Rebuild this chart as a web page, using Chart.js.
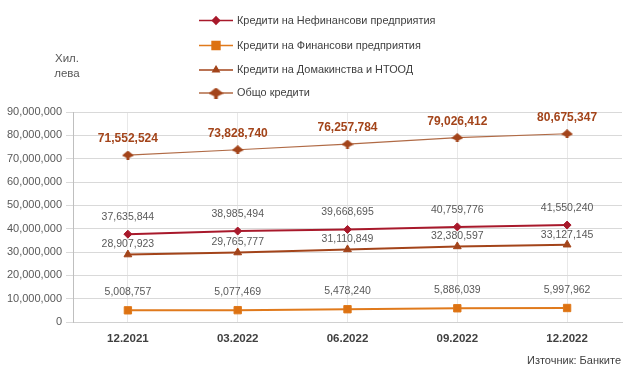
<!DOCTYPE html>
<html><head><meta charset="utf-8">
<script src="https://cdn.jsdelivr.net/npm/chart.js@4.4.0/dist/chart.umd.min.js"></script>
<style>html,body{margin:0;padding:0;background:#fff;}#wrap{width:631px;height:375px;position:relative}</style>
</head><body><div id="wrap"><canvas id="c" width="631" height="375"></canvas></div>
<script>
const categories = ['12.2021', '03.2022', '06.2022', '09.2022', '12.2022'];
const seriesNames = ['Кредити на Нефинансови предприятия', 'Кредити на Финансови предприятия', 'Кредити на Домакинства и НТООД', 'Общо кредити'];
const nonFinancial = [37635844, 38985494, 39668695, 40759776, 41550240];
const financial = [5008757, 5077469, 5478240, 5886039, 5997962];
const households = [28907923, 29765777, 31110849, 32380597, 33127145];
const total = [71552524, 73828740, 76257784, 79026412, 80675347];
const yMin = 0, yMax = 90000000, yStep = 10000000;
const yAxisTitle = ['Хил.', 'лева'];
const sourceText = 'Източник: Банките';

const FONT = "'Liberation Sans', Arial, sans-serif";

// custom marker for total series
function makeTotalMarker(w, h, color) {
  const cv = document.createElement('canvas');
  cv.width = w; cv.height = h;
  const c = cv.getContext('2d');
  c.fillStyle = color;
  c.beginPath();
  c.moveTo(0, h * 0.55);
  c.lineTo(w * 0.5, 0);
  c.lineTo(w, h * 0.55);
  c.lineTo(w * 0.62, h * 0.8);
  c.lineTo(w * 0.62, h);
  c.lineTo(w * 0.38, h);
  c.lineTo(w * 0.38, h * 0.8);
  c.closePath();
  c.fill();
  return cv;
}
const totalMarker = makeTotalMarker(12, 9, '#A3441A');
const totalMarkerLegend = makeTotalMarker(15, 11, '#A3441A');

const datasets = [
  { label: seriesNames[0], data: nonFinancial, borderColor: '#A8192B', backgroundColor: '#A8192B', borderWidth: 2,
    pointStyle: 'rectRot', pointRadius: 4, pointBorderWidth: 1, labelOffset: 17, labelFont: 'normal 10.5px ' + FONT, labelColor: '#595959' },
  { label: seriesNames[1], data: financial, borderColor: '#E07A1C', backgroundColor: '#DD7212', borderWidth: 2,
    pointStyle: 'rect', pointRadius: 5.2, pointBorderWidth: 1, labelOffset: 18, labelFont: 'normal 10.5px ' + FONT, labelColor: '#595959' },
  { label: seriesNames[2], data: households, borderColor: '#A3441A', backgroundColor: '#A3441A', borderWidth: 2,
    pointStyle: 'triangle', pointRadius: 4.5, pointBorderWidth: 1, labelOffset: 10, labelFont: 'normal 10.5px ' + FONT, labelColor: '#595959' },
  { label: seriesNames[3], data: total, borderColor: '#B06A45', backgroundColor: '#A3441A', borderWidth: 1.2,
    pointStyle: totalMarker, pointRadius: 6, pointBorderWidth: 0, labelOffset: 16, labelFont: 'bold 12px ' + FONT, labelColor: '#A3441A',
    legendMarker: totalMarkerLegend }
];

const fmt = v => Number(v).toLocaleString('en-US');

const labelsPlugin = {
  id: 'valueLabels',
  afterDatasetsDraw(chart) {
    const ctx = chart.ctx;
    chart.data.datasets.forEach((ds, i) => {
      const meta = chart.getDatasetMeta(i);
      ctx.save();
      ctx.font = ds.labelFont;
      ctx.fillStyle = ds.labelColor;
      ctx.textAlign = 'center';
      ctx.textBaseline = 'middle';
      meta.data.forEach((pt, j) => {
        ctx.fillText(fmt(ds.data[j]), pt.x, pt.y - ds.labelOffset);
      });
      ctx.restore();
    });
  }
};

const legendPlugin = {
  id: 'customLegend',
  afterDraw(chart) {
    const ctx = chart.ctx;
    const ys = [20.5, 45.5, 70, 93];
    chart.data.datasets.forEach((ds, i) => {
      const y = ys[i];
      ctx.save();
      ctx.strokeStyle = ds.borderColor;
      ctx.lineWidth = 1.6;
      ctx.beginPath();
      ctx.moveTo(199, y);
      ctx.lineTo(233, y);
      ctx.stroke();
      if (ds.legendMarker) {
        const m = ds.legendMarker;
        ctx.drawImage(m, 216 - m.width / 2, y - m.height / 2);
      } else {
        ctx.fillStyle = ds.backgroundColor;
        ctx.strokeStyle = ds.backgroundColor;
        Chart.helpers.drawPoint(ctx, { pointStyle: ds.pointStyle, radius: ds.pointStyle === 'rect' ? 5.5 : 3.5, rotation: 0, borderWidth: 1 }, 216, y);
      }
      ctx.font = 'normal 10.9px ' + FONT;
      ctx.fillStyle = '#404040';
      ctx.textAlign = 'left';
      ctx.textBaseline = 'middle';
      ctx.fillText(ds.label, 237, y);
      ctx.restore();
    });
    // y axis title
    ctx.save();
    ctx.font = 'normal 11.5px ' + FONT;
    ctx.fillStyle = '#595959';
    ctx.textAlign = 'center';
    ctx.textBaseline = 'middle';
    ctx.fillText(yAxisTitle[0], 67, 59);
    ctx.fillText(yAxisTitle[1], 67, 74);
    // source
    ctx.font = 'normal 11px ' + FONT;
    ctx.fillStyle = '#404040';
    ctx.textAlign = 'right';
    ctx.fillText(sourceText, 621, 361);
    ctx.restore();
  }
};

new Chart(document.getElementById('c'), {
  type: 'line',
  data: { labels: categories, datasets: datasets },
  options: {
    responsive: false,
    animation: false,
    devicePixelRatio: 1,
    layout: { padding: { left: 0, right: 9, top: 112, bottom: 0 } },
    plugins: { legend: { display: false }, tooltip: { enabled: false } },
    elements: { line: { tension: 0 } },
    scales: {
      x: {
        offset: true,
        grid: { color: '#E8E8E8', drawTicks: false, lineWidth: 1 },
        border: { display: true, color: '#D0D0D0' },
        ticks: { color: '#404040', font: { family: FONT, size: 11.5, weight: 'bold' }, padding: 10, maxRotation: 0 },
        afterFit(s) { s.height = 53; }
      },
      y: {
        min: yMin, max: yMax,
        grid: { color: '#D9D9D9', tickLength: 7, lineWidth: 1 },
        border: { display: true, color: '#BFBFBF' },
        ticks: { stepSize: yStep, color: '#595959', font: { family: FONT, size: 11 }, padding: 4, callback: v => fmt(v) },
        afterFit(s) { s.width = 73; }
      }
    }
  },
  plugins: [labelsPlugin, legendPlugin]
});
</script>
</body></html>
